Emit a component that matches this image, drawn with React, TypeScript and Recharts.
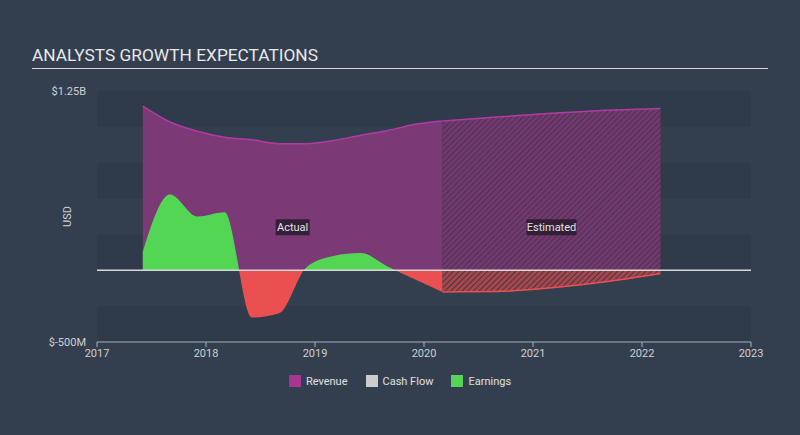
import React from 'react'
import { ComposedChart, Area, XAxis, YAxis, ReferenceArea, ReferenceLine } from 'recharts'

// quarterly points, actual period
const actualYears = [2017.42, 2017.67, 2017.92, 2018.17, 2018.42, 2018.67, 2018.92, 2019.17, 2019.42, 2019.67, 2019.92, 2020.17]
const revenueActual = [1144, 1034, 970, 928, 910, 883, 883, 905, 942, 975, 1018, 1041]
const earningsActual = [128, 528, 375, 405, -330, -300, 20, 100, 120, 25, -65, -151]

// analyst estimates
const estYears = [2020.17, 2020.67, 2021.17, 2021.67, 2022.17]
const revenueEst = [1041, 1068, 1095, 1115, 1128]
const earningsEst = [-151, -148, -122, -80, -23]

const xTicks = [2017, 2018, 2019, 2020, 2021, 2022, 2023]
const yTicks = [-500, 1250]
const bandEdges = [1250, 1000, 750, 500, 250, 0, -250, -500]

const rows: Record<string, number | null>[] = []
actualYears.forEach((year, i) => {
  rows.push({ year, revenue: revenueActual[i], earnings: earningsActual[i], revenueEst: null, earningsEst: null })
})
estYears.forEach((year, i) => {
  const existing = rows.find(r => r.year === year)
  if (existing) {
    existing.revenueEst = revenueEst[i]
    existing.earningsEst = earningsEst[i]
  } else {
    rows.push({ year, revenue: null, earnings: null, revenueEst: revenueEst[i], earningsEst: earningsEst[i] })
  }
})

const FONT = 'Roboto, "Noto Sans", sans-serif'
const zeroOffset = yTicks[1] / (yTicks[1] - yTicks[0])

const fmtY = (v: number) => (Math.abs(v) >= 1000 ? `$${v / 1000}B` : `$${v}M`)

const periodLabel = (text: string, w: number) => (props: any) => {
  const vb = props.viewBox
  const cx = vb.x + vb.width / 2
  const cy = vb.y + vb.height / 2
  return (
    <g>
      <rect x={cx - w / 2} y={cy - 8} width={w} height={16} fill="#2a1a2e" fillOpacity={0.85} />
      <text x={cx} y={cy + 4} textAnchor="middle" fontSize={11} fill="#e4e4e4" fontFamily={FONT}>{text}</text>
    </g>
  )
}

const legendItems = [
  { name: 'Revenue', color: '#a8358f' },
  { name: 'Cash Flow', color: '#cccccc' },
  { name: 'Earnings', color: '#53d653' },
]

export default function App() {
  const top = 91
  const plotH = 251
  return (
    <div style={{ position: 'fixed', left: 0, top: 0, width: 800, height: 435, background: '#333f4f', fontFamily: FONT }}>
      <div style={{ position: 'absolute', left: 32, top: 45, fontSize: 17.3, color: '#e8e8e8' }}>ANALYSTS GROWTH EXPECTATIONS</div>
      <div style={{ position: 'absolute', left: 32, top: 68, width: 736, height: 1, background: '#d8d8d8' }} />
      <ComposedChart width={800} height={435} data={rows} margin={{ top, right: 49, bottom: 63, left: 37 }}>
        <defs>
          <linearGradient id="earnGrad" gradientUnits="userSpaceOnUse" x1={0} y1={top} x2={0} y2={top + plotH}>
            <stop offset={zeroOffset} stopColor="#53d653" />
            <stop offset={zeroOffset} stopColor="#eb5050" />
          </linearGradient>
          <pattern id="hatchRev" patternUnits="userSpaceOnUse" width={4} height={4} patternTransform="rotate(45)">
            <rect width={4} height={4} fill="#74386f" />
            <line x1={0} y1={0} x2={0} y2={4} stroke="#45354f" strokeWidth={2} />
          </pattern>
          <pattern id="hatchRed" patternUnits="userSpaceOnUse" width={4} height={4} patternTransform="rotate(45)">
            <rect width={4} height={4} fill="#a8454a" />
            <line x1={0} y1={0} x2={0} y2={4} stroke="#3e3a48" strokeWidth={2} />
          </pattern>
        </defs>
        {bandEdges.slice(0, -1).map((e, i) =>
          i % 2 === 0 ? (
            <ReferenceArea key={e} x1={xTicks[0]} x2={xTicks[xTicks.length - 1]} y1={bandEdges[i + 1]} y2={e} fill="#2f3b4a" fillOpacity={1} stroke="none" />
          ) : null
        )}
        <XAxis
          dataKey="year"
          type="number"
          domain={[xTicks[0], xTicks[xTicks.length - 1]]}
          ticks={xTicks}
          height={30}
          stroke="#a9b1bb"
          tickSize={5}
          tickMargin={2}
          tick={{ fill: '#d0d0d0', fontSize: 11, fontFamily: FONT }}
        />
        <YAxis
          type="number"
          domain={[yTicks[0], yTicks[1]]}
          ticks={yTicks}
          width={60}
          axisLine={false}
          tickLine={false}
          tickMargin={5}
          tickFormatter={fmtY}
          tick={{ fill: '#d0d0d0', fontSize: 11, fontFamily: FONT }}
          label={{ value: 'USD', angle: -90, position: 'center', fill: '#d0d0d0', fontSize: 11, fontFamily: FONT }}
        />
        <Area dataKey="revenue" type="monotone" baseValue={0} fill="#7b3976" fillOpacity={1} stroke="#b13aa3" strokeWidth={1.5} dot={false} activeDot={false} isAnimationActive={false} />
        <Area dataKey="revenueEst" type="monotone" baseValue={0} fill="url(#hatchRev)" fillOpacity={1} stroke="#b13aa3" strokeWidth={1.5} dot={false} activeDot={false} isAnimationActive={false} />
        <Area dataKey="earnings" type="monotone" baseValue={0} fill="url(#earnGrad)" fillOpacity={1} stroke="none" dot={false} activeDot={false} isAnimationActive={false} />
        <Area dataKey="earningsEst" type="monotone" baseValue={0} fill="url(#hatchRed)" fillOpacity={1} stroke="#eb5050" strokeWidth={1.5} dot={false} activeDot={false} isAnimationActive={false} />
        <ReferenceLine y={0} stroke="#d8d8d8" strokeWidth={1.5} />
        <ReferenceArea x1={actualYears[0]} x2={estYears[0]} y1={0} y2={600} fill="none" stroke="none" label={periodLabel('Actual', 34)} />
        <ReferenceArea x1={estYears[0]} x2={estYears[estYears.length - 1]} y1={0} y2={600} fill="none" stroke="none" label={periodLabel('Estimated', 50)} />
      </ComposedChart>
      <div style={{ position: 'absolute', top: 375, left: 0, width: 800, display: 'flex', justifyContent: 'center', gap: 18, fontSize: 11, color: '#e0e0e0' }}>
        {legendItems.map(item => (
          <div key={item.name} style={{ display: 'flex', alignItems: 'center', gap: 5, height: 12 }}>
            <span style={{ width: 12, height: 12, background: item.color, display: 'inline-block' }} />
            <span>{item.name}</span>
          </div>
        ))}
      </div>
    </div>
  )
}
